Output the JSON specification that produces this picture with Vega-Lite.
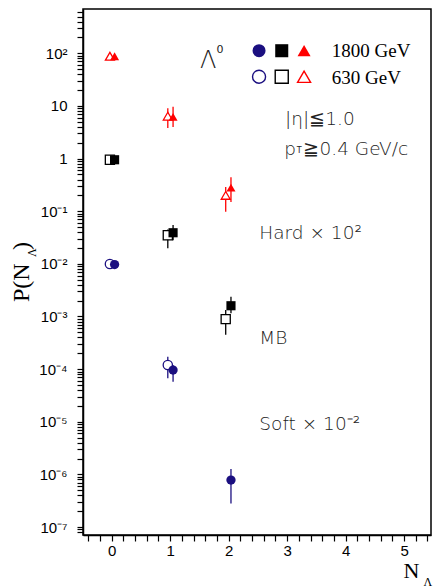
{
  "$schema": "https://vega.github.io/schema/vega-lite/v6.json",
  "width": 348,
  "height": 526,
  "autosize": {"type": "none"},
  "padding": {"left": 83, "top": 9, "right": 3, "bottom": 51},
  "background": "white",
  "config": {
    "view": {"stroke": "black", "strokeWidth": 1.5},
    "axis": {"grid": false, "domainColor": "black", "domainWidth": 1.5, "tickColor": "black", "tickWidth": 1.2, "labelColor": "black", "labelFont": "Liberation Sans", "labelFontSize": 15, "title": null}
  },
  "datasets": {
    "pts": [
      {"N": -0.03, "energy": "630", "set": "Hard", "p": 88},
      {"N": 0.96, "energy": "630", "set": "Hard", "p": 6.4, "lo": 3.8, "hi": 9.0},
      {"N": 1.95, "energy": "630", "set": "Hard", "p": 0.2, "lo": 0.098, "hi": 0.29},
      {"N": 0.05, "energy": "1800", "set": "Hard", "p": 88},
      {"N": 1.05, "energy": "1800", "set": "Hard", "p": 6.2, "lo": 4.0, "hi": 9.7},
      {"N": 2.04, "energy": "1800", "set": "Hard", "p": 0.28, "lo": 0.15, "hi": 0.44},
      {"N": -0.03, "energy": "630", "set": "MB", "p": 0.95},
      {"N": 0.96, "energy": "630", "set": "MB", "p": 0.035, "lo": 0.0197, "hi": 0.045},
      {"N": 1.95, "energy": "630", "set": "MB", "p": 0.00089, "lo": 0.00045, "hi": 0.00133},
      {"N": 0.05, "energy": "1800", "set": "MB", "p": 0.95},
      {"N": 1.05, "energy": "1800", "set": "MB", "p": 0.039, "lo": 0.028, "hi": 0.055},
      {"N": 2.04, "energy": "1800", "set": "MB", "p": 0.0016, "lo": 0.00115, "hi": 0.00237},
      {"N": -0.03, "energy": "630", "set": "Soft", "p": 0.0099},
      {"N": 0.96, "energy": "630", "set": "Soft", "p": 0.00012, "lo": 0.000067, "hi": 0.000172},
      {"N": 0.05, "energy": "1800", "set": "Soft", "p": 0.0097},
      {"N": 1.05, "energy": "1800", "set": "Soft", "p": 0.000096, "lo": 0.0000575, "hi": 0.00012},
      {"N": 2.04, "energy": "1800", "set": "Soft", "p": 0.00000078, "lo": 0.00000028, "hi": 0.00000126}
    ],
    "key": [
      {"N": 2.52, "p": 112, "set": "Soft", "energy": "1800"},
      {"N": 2.908, "p": 112, "set": "MB", "energy": "1800"},
      {"N": 3.29, "p": 112, "set": "Hard", "energy": "1800"},
      {"N": 2.52, "p": 35.9, "set": "Soft", "energy": "630"},
      {"N": 2.908, "p": 35.9, "set": "MB", "energy": "630"},
      {"N": 3.29, "p": 35.9, "set": "Hard", "energy": "630"}
    ],
    "notes": [
      {"role": "serif", "N": 3.763, "p": 84, "text": "1800 GeV"},
      {"role": "serif", "N": 3.763, "p": 26.1, "text": "630 GeV"},
      {"role": "sans", "N": 2.965, "p": 4.35, "text": "|η|≦1.0"},
      {"role": "sans", "N": 2.95, "p": 1.17, "text": "p"},
      {"role": "sans", "N": 3.28, "p": 1.17, "text": "≧0.4 GeV/c"},
      {"role": "sans", "N": 2.525, "p": 0.0296, "text": "Hard × 10²"},
      {"role": "sans", "N": 2.525, "p": 0.000299, "text": "MB"},
      {"role": "sans", "N": 2.525, "p": 0.00000697, "text": "Soft × 10⁻²"},
      {"role": "big", "N": 1.51, "p": 51.9, "text": "Λ"},
      {"role": "small", "N": 1.853, "p": 114, "text": "0"},
      {"role": "tiny", "N": 3.205, "p": 1.42, "text": "T"},
      {"role": "xtitle", "N": 4.988, "p": 1.06e-8, "text": "N"},
      {"role": "xsub", "N": 5.33, "p": 1.1e-8, "text": "Λ"},
      {"role": "ytitle", "N": -1.415, "p": 0.00188, "text": "P(N"},
      {"role": "ytitle", "N": -1.415, "p": 0.0183, "text": ")"},
      {"role": "ysub", "N": -1.286, "p": 0.0135, "text": "Λ"}
    ]
  },
  "encoding": {
    "x": {"field": "N", "type": "quantitative", "scale": {"domain": [-0.49, 5.46], "nice": false, "zero": false},
      "axis": {
        "values": [-0.4,-0.2,0,0.2,0.4,0.6,0.8,1,1.2,1.4,1.6,1.8,2,2.2,2.4,2.6,2.8,3,3.2,3.4,3.6,3.8,4,4.2,4.4,4.6,4.8,5,5.2,5.4],
        "labelExpr": "abs(datum.value - round(datum.value)) < 0.01 ? toString(round(datum.value)) : ''",
        "ticks": true,
        "tickSize": 6,
        "labelPadding": 2,
        "labelFlush": false,
        "labelOverlap": false
      }
    },
    "y": {"field": "p", "type": "quantitative", "scale": {"type": "log", "domain": [7.05e-8, 695], "nice": false},
      "axis": {
        "values": [8e-8,9e-8,1e-7,2e-7,3e-7,4e-7,5e-7,6e-7,7e-7,8e-7,9e-7,1e-6,2e-6,3e-6,4e-6,5e-6,6e-6,7e-6,8e-6,9e-6,1e-5,2e-5,3e-5,4e-5,5e-5,6e-5,7e-5,8e-5,9e-5,1e-4,2e-4,3e-4,4e-4,5e-4,6e-4,7e-4,8e-4,9e-4,1e-3,2e-3,3e-3,4e-3,5e-3,6e-3,7e-3,8e-3,9e-3,0.01,0.02,0.03,0.04,0.05,0.06,0.07,0.08,0.09,0.1,0.2,0.3,0.4,0.5,0.6,0.7,0.8,0.9,1,2,3,4,5,6,7,8,9,10,20,30,40,50,60,70,80,90,100,200,300,400,500,600],
        "labelExpr": "abs(log(datum.value)/LN10 - round(log(datum.value)/LN10)) > 0.01 ? '' : ['10⁻⁷','10⁻⁶','10⁻⁵','10⁻⁴','10⁻³','10⁻²','10⁻¹','1','10','10²'][round(log(datum.value)/LN10)+7]",
        "ticks": true,
        "tickSize": 6,
        "labelPadding": 10,
        "labelFlush": false,
        "labelOverlap": false,
        "labelBaseline": "middle"
      }
    }
  },
  "layer": [
    {
      "data": {"name": "pts"},
      "transform": [{"filter": "isValid(datum.lo)"}],
      "mark": {"type": "rule", "strokeWidth": 1.3},
      "encoding": {
        "y": {"field": "lo", "type": "quantitative"},
        "y2": {"field": "hi"},
        "color": {"field": "set", "type": "nominal", "scale": {"domain": ["Soft", "MB", "Hard"], "range": ["#1b0f80", "#000000", "#ff0000"]}, "legend": null}
      }
    },
    {
      "data": {"name": "pts"},
      "transform": [{"filter": "datum.energy === '630'"}],
      "mark": {"type": "point", "filled": false, "fill": "white", "fillOpacity": 1, "strokeWidth": 1.3, "opacity": 1},
      "encoding": {
        "shape": {"field": "set", "type": "nominal", "scale": {"domain": ["Soft", "MB", "Hard"], "range": ["circle", "square", "triangle-up"]}, "legend": null},
        "size": {"field": "set", "type": "nominal", "scale": {"domain": ["Soft", "MB", "Hard"], "range": [86, 81, 66]}, "legend": null},
        "color": {"field": "set", "type": "nominal", "legend": null}
      }
    },
    {
      "data": {"name": "pts"},
      "transform": [{"filter": "datum.energy === '1800'"}],
      "mark": {"type": "point", "filled": true, "opacity": 1},
      "encoding": {
        "shape": {"field": "set", "type": "nominal", "legend": null},
        "size": {"field": "set", "type": "nominal", "legend": null},
        "color": {"field": "set", "type": "nominal", "legend": null}
      }
    },
    {
      "data": {"name": "key"},
      "transform": [{"filter": "datum.energy === '630'"}],
      "mark": {"type": "point", "filled": false, "fill": "white", "fillOpacity": 1, "strokeWidth": 1.4, "opacity": 1, "size": 170},
      "encoding": {
        "shape": {"field": "set", "type": "nominal", "legend": null},
        "color": {"field": "set", "type": "nominal", "legend": null}
      }
    },
    {
      "data": {"name": "key"},
      "transform": [{"filter": "datum.energy === '1800'"}],
      "mark": {"type": "point", "filled": true, "opacity": 1, "size": 170},
      "encoding": {
        "shape": {"field": "set", "type": "nominal", "legend": null},
        "color": {"field": "set", "type": "nominal", "legend": null}
      }
    },
    {
      "data": {"name": "notes"},
      "transform": [{"filter": "datum.role === 'serif'"}],
      "mark": {"type": "text", "font": "Liberation Serif", "fontSize": 19, "align": "left", "baseline": "alphabetic", "color": "black"},
      "encoding": {"text": {"field": "text"}}
    },
    {
      "data": {"name": "notes"},
      "transform": [{"filter": "datum.role === 'sans'"}],
      "mark": {"type": "text", "font": "DejaVu Sans", "fontWeight": 300, "fontSize": 18.5, "align": "left", "baseline": "alphabetic", "color": "#222222"},
      "encoding": {"text": {"field": "text"}}
    },
    {
      "data": {"name": "notes"},
      "transform": [{"filter": "datum.role === 'big'"}],
      "mark": {"type": "text", "font": "DejaVu Sans", "fontWeight": 300, "fontSize": 24, "align": "left", "baseline": "alphabetic", "color": "#222222"},
      "encoding": {"text": {"field": "text"}}
    },
    {
      "data": {"name": "notes"},
      "transform": [{"filter": "datum.role === 'small'"}],
      "mark": {"type": "text", "font": "DejaVu Sans", "fontSize": 11, "align": "center", "baseline": "middle", "color": "#222222"},
      "encoding": {"text": {"field": "text"}}
    },
    {
      "data": {"name": "notes"},
      "transform": [{"filter": "datum.role === 'tiny'"}],
      "mark": {"type": "text", "font": "DejaVu Sans", "fontSize": 8, "align": "center", "baseline": "middle", "color": "#222222"},
      "encoding": {"text": {"field": "text"}}
    },
    {
      "data": {"name": "notes"},
      "transform": [{"filter": "datum.role === 'xtitle'"}],
      "mark": {"type": "text", "font": "Liberation Serif", "fontSize": 22, "align": "left", "baseline": "alphabetic", "color": "black"},
      "encoding": {"text": {"field": "text"}}
    },
    {
      "data": {"name": "notes"},
      "transform": [{"filter": "datum.role === 'xsub'"}],
      "mark": {"type": "text", "font": "Liberation Serif", "fontSize": 12, "align": "left", "baseline": "top", "color": "black"},
      "encoding": {"text": {"field": "text"}}
    },
    {
      "data": {"name": "notes"},
      "transform": [{"filter": "datum.role === 'ytitle'"}],
      "mark": {"type": "text", "font": "Liberation Serif", "fontSize": 24, "align": "left", "baseline": "alphabetic", "angle": 270, "color": "black"},
      "encoding": {"text": {"field": "text"}}
    },
    {
      "data": {"name": "notes"},
      "transform": [{"filter": "datum.role === 'ysub'"}],
      "mark": {"type": "text", "font": "Liberation Serif", "fontSize": 12, "align": "left", "baseline": "alphabetic", "angle": 270, "color": "black"},
      "encoding": {"text": {"field": "text"}}
    }
  ]
}
